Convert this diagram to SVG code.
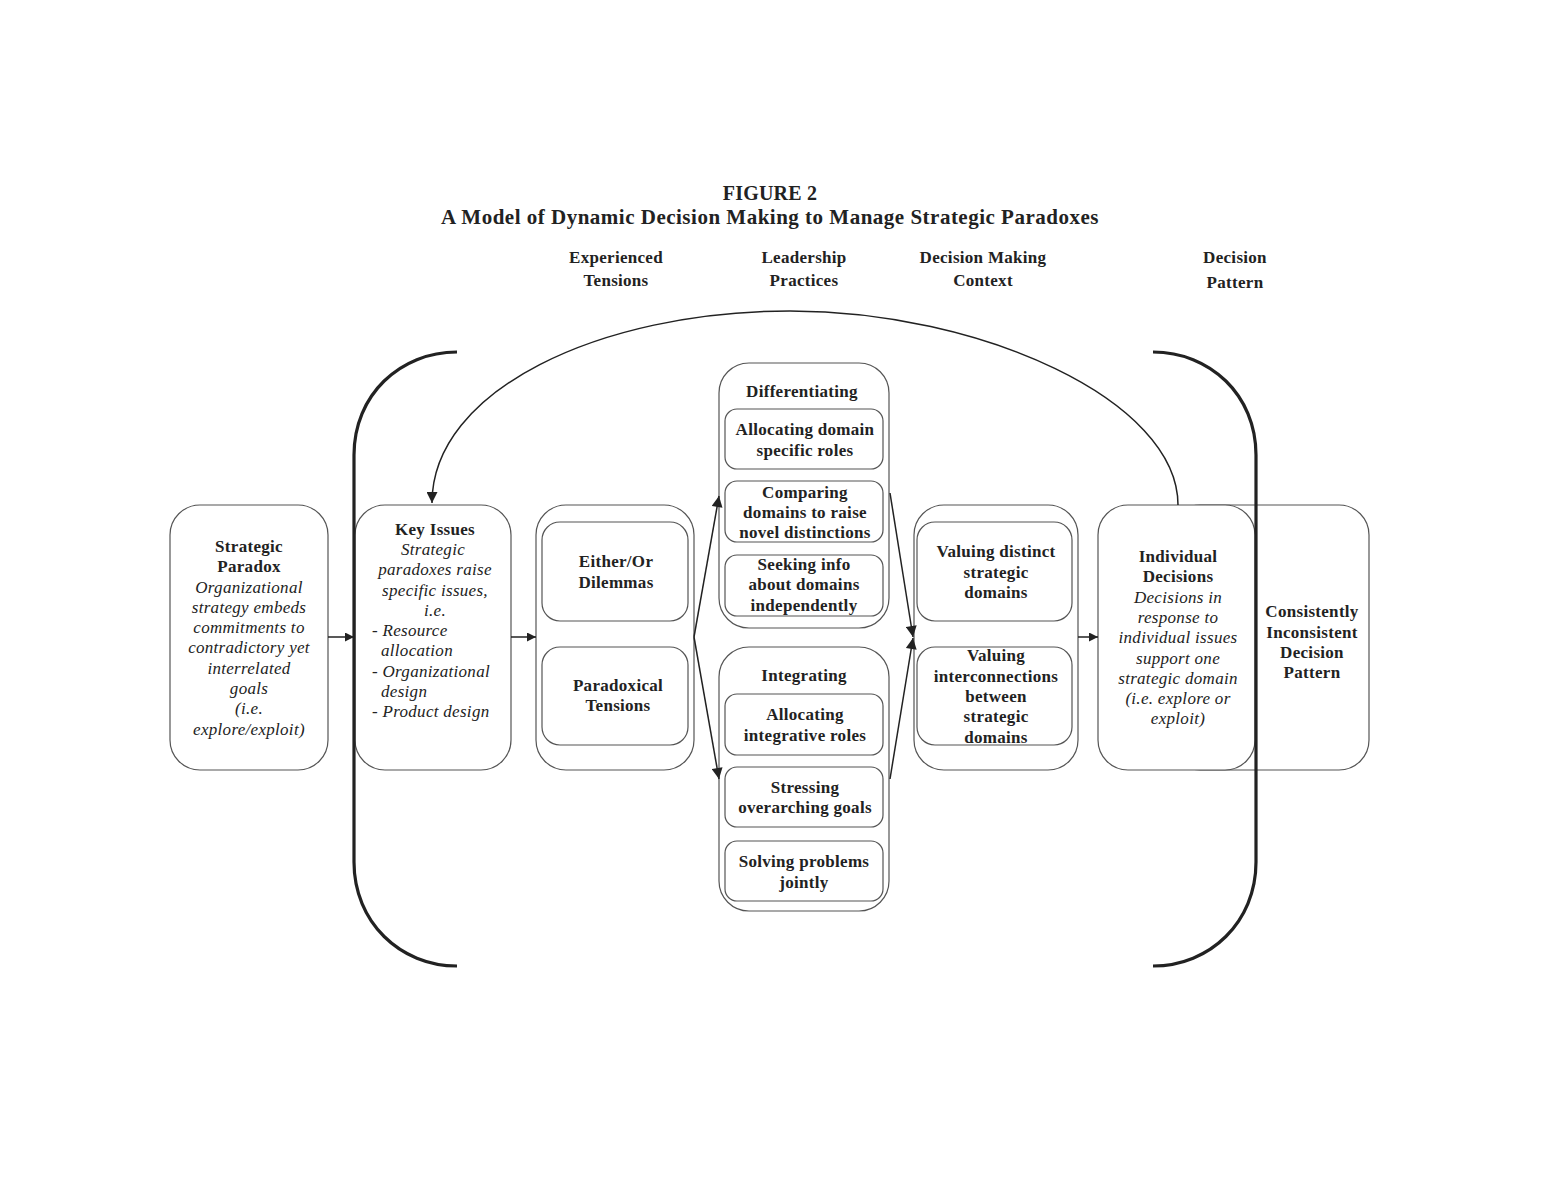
<svg xmlns="http://www.w3.org/2000/svg" width="1548" height="1188" viewBox="0 0 1548 1188">
<style>
text{font-family:"Liberation Serif","Times New Roman",serif;fill:#222;text-anchor:middle}
.t{font-size:21px;font-weight:bold;letter-spacing:0.5px}
.f{font-size:20px;font-weight:bold;letter-spacing:0.2px}
.h{font-size:17px;font-weight:bold;letter-spacing:0.3px}
.b{font-size:17px;font-weight:bold;letter-spacing:0.3px}
.i{font-size:17px;font-style:italic;letter-spacing:0.3px}
.l{text-anchor:start}
.box{fill:#fff;stroke:#555;stroke-width:1.2}
.ibox{fill:none;stroke:#555;stroke-width:1.2}
.br{fill:none;stroke:#222;stroke-width:3.2}
.ar{fill:none;stroke:#222;stroke-width:1.5}
</style>
<defs>
<marker id="ah" viewBox="0 0 10 10" refX="10" refY="5" markerWidth="10" markerHeight="9" markerUnits="userSpaceOnUse" orient="auto">
<path d="M0,0 L10,5 L0,10 z" fill="#222"/>
</marker>
<marker id="ahb" viewBox="0 0 10 10" refX="10" refY="5" markerWidth="12" markerHeight="11" markerUnits="userSpaceOnUse" orient="auto">
<path d="M0,0 L10,5 L0,10 z" fill="#222"/>
</marker>
</defs>
<rect width="1548" height="1188" fill="#fff"/>
<g id="title">
<text class="f" x="770" y="200">FIGURE 2</text>
<text class="t" x="770" y="224">A Model of Dynamic Decision Making to Manage Strategic Paradoxes</text>
</g>
<g id="headers">
<text class="h" x="616" y="263">Experienced</text>
<text class="h" x="616" y="286">Tensions</text>
<text class="h" x="804" y="263">Leadership</text>
<text class="h" x="804" y="286">Practices</text>
<text class="h" x="983" y="263">Decision Making</text>
<text class="h" x="983" y="286">Context</text>
<text class="h" x="1235" y="263">Decision</text>
<text class="h" x="1235" y="288">Pattern</text>
</g>
<g id="pattern">
<rect class="box" x="1170" y="505" width="199" height="265" rx="30"/>
<text class="b" x="1312" y="617">Consistently</text>
<text class="b" x="1312" y="638">Inconsistent</text>
<text class="b" x="1312" y="658">Decision</text>
<text class="b" x="1312" y="678">Pattern</text>
</g>
<g id="strategic-paradox">
<rect class="box" x="170" y="505" width="158" height="265" rx="30"/>
<text class="b" x="249" y="552">Strategic</text>
<text class="b" x="249" y="572">Paradox</text>
<text class="i" x="249" y="593">Organizational</text>
<text class="i" x="249" y="613">strategy embeds</text>
<text class="i" x="249" y="633">commitments to</text>
<text class="i" x="249" y="653">contradictory yet</text>
<text class="i" x="249" y="674">interrelated</text>
<text class="i" x="249" y="694">goals</text>
<text class="i" x="249" y="714">(i.e.</text>
<text class="i" x="249" y="735">explore/exploit)</text>
</g>
<g id="key-issues">
<rect class="box" x="355" y="505" width="156" height="265" rx="30"/>
<text class="b" x="435" y="535">Key Issues</text>
<text class="i" x="433" y="555">Strategic</text>
<text class="i" x="435" y="575">paradoxes raise</text>
<text class="i" x="435" y="596">specific issues,</text>
<text class="i" x="435" y="616">i.e.</text>
<text class="i l" x="372" y="636">- Resource</text>
<text class="i l" x="381" y="656">allocation</text>
<text class="i l" x="372" y="677">- Organizational</text>
<text class="i l" x="381" y="697">design</text>
<text class="i l" x="372" y="717">- Product design</text>
</g>
<g id="experienced-tensions">
<rect class="box" x="536" y="505" width="158" height="265" rx="30"/>
<rect class="ibox" x="542" y="522" width="146" height="99" rx="18"/>
<text class="b" x="616" y="567">Either/Or</text>
<text class="b" x="616" y="588">Dilemmas</text>
<rect class="ibox" x="542" y="647" width="146" height="98" rx="18"/>
<text class="b" x="618" y="691">Paradoxical</text>
<text class="b" x="618" y="711">Tensions</text>
</g>
<g id="differentiating">
<rect class="box" x="719" y="363" width="170" height="265" rx="30"/>
<text class="b" x="802" y="397">Differentiating</text>
<rect class="ibox" x="725" y="409" width="158" height="60" rx="12"/>
<text class="b" x="805" y="435">Allocating domain</text>
<text class="b" x="805" y="456">specific roles</text>
<rect class="ibox" x="725" y="481" width="158" height="61" rx="12"/>
<text class="b" x="805" y="498">Comparing</text>
<text class="b" x="805" y="518">domains to raise</text>
<text class="b" x="805" y="538">novel distinctions</text>
<rect class="ibox" x="725" y="555" width="158" height="61" rx="12"/>
<text class="b" x="804" y="570">Seeking info</text>
<text class="b" x="804" y="590">about domains</text>
<text class="b" x="804" y="611">independently</text>
</g>
<g id="integrating">
<rect class="box" x="719" y="647" width="170" height="264" rx="30"/>
<text class="b" x="804" y="681">Integrating</text>
<rect class="ibox" x="725" y="694" width="158" height="61" rx="12"/>
<text class="b" x="805" y="720">Allocating</text>
<text class="b" x="805" y="741">integrative roles</text>
<rect class="ibox" x="725" y="767" width="158" height="60" rx="12"/>
<text class="b" x="805" y="793">Stressing</text>
<text class="b" x="805" y="813">overarching goals</text>
<rect class="ibox" x="725" y="841" width="158" height="60" rx="12"/>
<text class="b" x="804" y="867">Solving problems</text>
<text class="b" x="804" y="888">jointly</text>
</g>
<g id="decision-context">
<rect class="box" x="914" y="505" width="164" height="265" rx="30"/>
<rect class="ibox" x="917" y="522" width="155" height="99" rx="18"/>
<text class="b" x="996" y="557">Valuing distinct</text>
<text class="b" x="996" y="578">strategic</text>
<text class="b" x="996" y="598">domains</text>
<rect class="ibox" x="917" y="647" width="155" height="98" rx="18"/>
<text class="b" x="996" y="661">Valuing</text>
<text class="b" x="996" y="682">interconnections</text>
<text class="b" x="996" y="702">between</text>
<text class="b" x="996" y="722">strategic</text>
<text class="b" x="996" y="743">domains</text>
</g>
<g id="individual-decisions">
<rect class="box" x="1098" y="505" width="157" height="265" rx="30"/>
<text class="b" x="1178" y="562">Individual</text>
<text class="b" x="1178" y="582">Decisions</text>
<text class="i" x="1178" y="603">Decisions in</text>
<text class="i" x="1178" y="623">response to</text>
<text class="i" x="1178" y="643">individual issues</text>
<text class="i" x="1178" y="664">support one</text>
<text class="i" x="1178" y="684">strategic domain</text>
<text class="i" x="1178" y="704">(i.e. explore or</text>
<text class="i" x="1178" y="724">exploit)</text>
</g>
<g id="connectors">
<path class="br" d="M457,352 C400,352 354,395 354,455 L354,862 C354,922 400,966 457,966"/>
<path class="br" d="M1153,352 C1210,352 1256,395 1256,455 L1256,862 C1256,922 1210,966 1153,966"/>
<path class="ar" d="M1178,505 C1178,400 980,311 790,311 C600,311 432,390 432,503" stroke-width="1.3" marker-end="url(#ahb)"/>
<line class="ar" x1="328" y1="637" x2="354" y2="637" marker-end="url(#ah)"/>
<line class="ar" x1="511" y1="637" x2="536" y2="637" marker-end="url(#ah)"/>
<line class="ar" x1="694" y1="637" x2="719" y2="496" marker-end="url(#ahb)"/>
<line class="ar" x1="694" y1="637" x2="719" y2="779" marker-end="url(#ahb)"/>
<line class="ar" x1="890" y1="493" x2="913" y2="637" marker-end="url(#ahb)"/>
<line class="ar" x1="890" y1="779" x2="913" y2="638" marker-end="url(#ahb)"/>
<line class="ar" x1="1078" y1="637" x2="1098" y2="637" marker-end="url(#ah)"/>
</g>
</svg>
